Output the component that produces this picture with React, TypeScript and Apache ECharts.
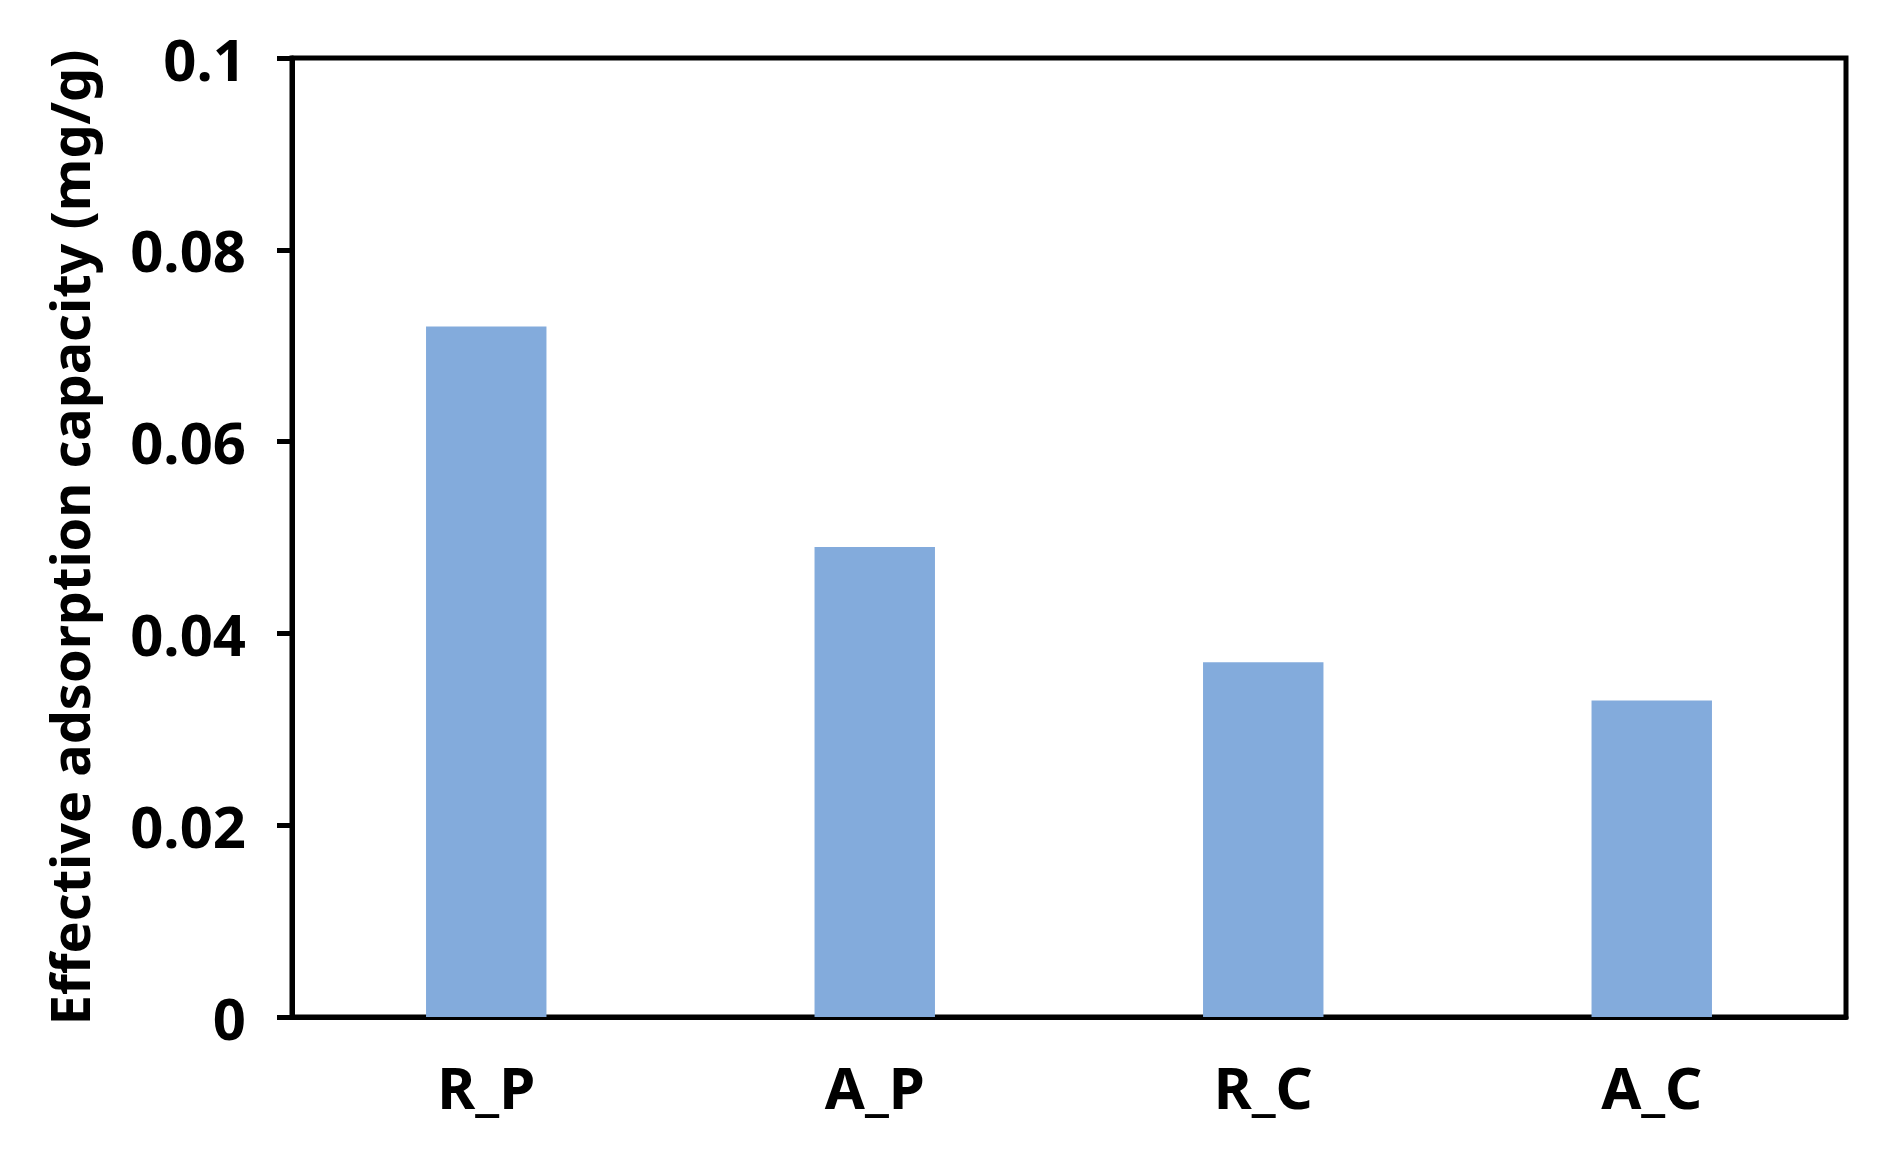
import React, { useEffect, useRef } from "react";
import * as echarts from "echarts";

const categories = ["R_P", "A_P", "R_C", "A_C"];
const capacity = [0.072, 0.049, 0.037, 0.033];
const yTicks = [0, 0.02, 0.04, 0.06, 0.08, 0.1];

export default function App() {
  const ref = useRef<HTMLDivElement>(null);
  useEffect(() => {
    const chart = echarts.init(ref.current!, null, { renderer: "svg" });
    const font = "'Noto Sans', 'Open Sans', sans-serif";
    chart.setOption({
      animation: false,
      backgroundColor: "#ffffff",
      grid: {
        left: 292,
        right: 42,
        top: 58,
        bottom: 154,
        show: true,
        borderColor: "#000",
        borderWidth: 5,
        backgroundColor: "transparent",
      },
      xAxis: {
        type: "category",
        data: categories,
        axisLine: { show: true, lineStyle: { color: "#000", width: 5 } },
        axisTick: { show: false },
        axisLabel: {
          color: "#000",
          fontFamily: font,
          fontWeight: "bold",
          fontSize: 58,
          margin: 40,
        },
      },
      yAxis: {
        type: "value",
        min: 0,
        max: 0.1,
        interval: 0.02,
        name: "Effective adsorption capacity (mg/g)",
        nameLocation: "middle",
        nameGap: 196,
        nameTextStyle: {
          color: "#000",
          fontFamily: font,
          fontWeight: "bold",
          fontSize: 54,
        },
        splitLine: { show: false },
        axisLine: { show: true, lineStyle: { color: "#000", width: 5 } },
        axisTick: { show: true, length: 15, lineStyle: { color: "#000", width: 5 } },
        axisLabel: {
          color: "#000",
          fontFamily: font,
          fontWeight: "bold",
          fontSize: 58,
          margin: 46,
          formatter: (v: number) => {
            const t = yTicks.find((x) => Math.abs(x - v) < 1e-9);
            return t === undefined ? "" : String(Number(t.toFixed(2)));
          },
        },
      },
      series: [
        {
          type: "bar",
          data: capacity,
          barWidth: "31%",
          itemStyle: { color: "#83ABDC" },
        },
      ],
    });
    return () => chart.dispose();
  }, []);
  return (
    <div
      ref={ref}
      style={{ position: "absolute", left: 0, top: 0, width: 1888, height: 1171 }}
    />
  );
}
